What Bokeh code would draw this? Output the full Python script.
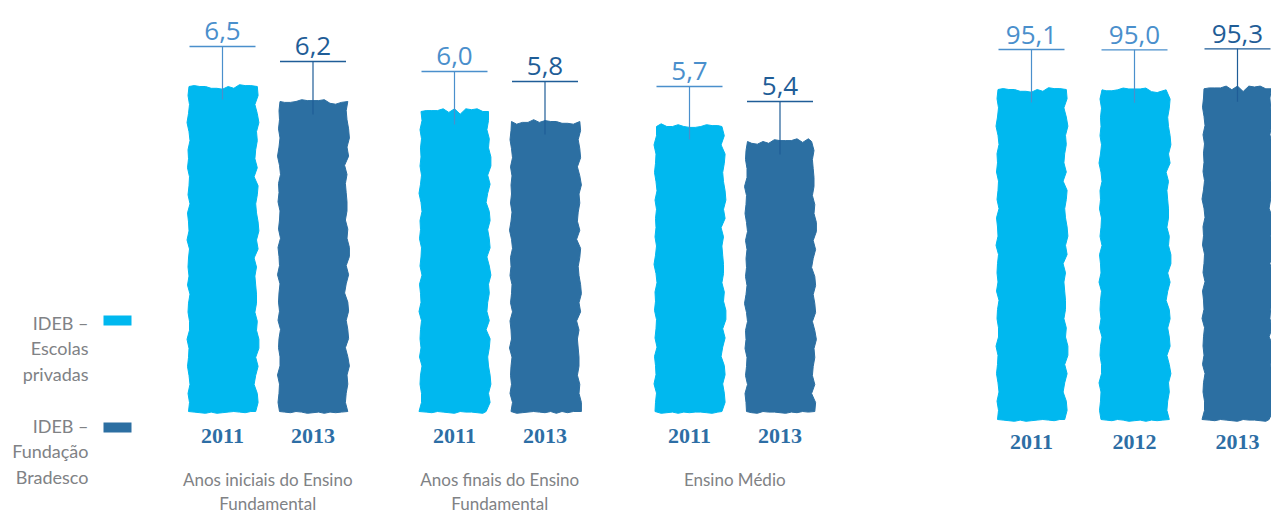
from bokeh.plotting import figure
from bokeh.models import Range1d, ColumnDataSource
from bokeh.core.properties import value
from bokeh.embed import file_html
from bokeh.resources import INLINE

# ---- data -------------------------------------------------------------
ideb_groups = ["Anos iniciais do Ensino\nFundamental",
               "Anos finais do Ensino\nFundamental",
               "Ensino Médio"]
ideb_years = ["2011", "2013"]
ideb_privadas = [6.5, 6.0, 5.7]     # IDEB – Escolas privadas (2011)
ideb_bradesco = [6.2, 5.8, 5.4]     # IDEB – Fundação Bradesco (2013)

pct_years = ["2011", "2012", "2013"]
pct_values = [95.1, 95.0, 95.3]

legend_labels = ["IDEB –\nEscolas\nprivadas", "IDEB –\nFundação\nBradesco"]

# ---- styles -----------------------------------------------------------
LIGHT = "#00b8ef"
DARK = "#2c6fa2"
LABEL_LIGHT = "#4a8fcc"
LABEL_DARK = "#1f5d97"
YEAR_COLOR = "#2d6ea5"
GREY = "#808285"
CAPTION_FONT = value("Lato")

W, H = 1271, 515

# ---- layout (screen-like x axis, independent y scales) ---------------
BAR_W = 68
IDEB_FIRST = [222, 454, 689]   # centre of first bar in each IDEB group
IDEB_STEP = 90.5
PCT_FIRST = 1031
PCT_STEP = 103
IDEB_PX = 50.0                 # pixels per IDEB point
PCT_PX = 3.47                  # pixels per percentage point

# brush-stroke wobble for bar outlines (pixels)
WOBBLE = [0, 2, -1, 3, 1, -2, 0, 1, -3, 2, 2, -1, 0, 3, -2, 1, -1, 0, 2, -3,
          1, 0, -2, 3, -1, 1, 2, -2, 0, -1, 3, 1, -3, 0, 2, -1, 1]

p = figure(width=W, height=H, output_backend="svg", toolbar_location=None,
           x_range=Range1d(0, W), y_range=Range1d(H, 0),
           min_border=0, outline_line_color=None)
p.axis.visible = False
p.grid.visible = False
p.background_fill_color = "white"
p.border_fill_color = "white"

p.extra_y_ranges = {
    "ideb": Range1d(-104 / IDEB_PX, 411 / IDEB_PX),
    "pct": Range1d(-96 / PCT_PX, 419 / PCT_PX),
}


def brush_bar(xc, top, px_per_unit, seed):
    """Outline of a bar from 0 to `top` with a slightly ragged edge."""
    half = BAR_W / 2
    h_px = top * px_per_unit
    k = seed
    n = len(WOBBLE)
    xs, ys = [], []
    n_side = int(h_px // 9)
    for i in range(n_side + 1):                       # left side, upwards
        xs.append(xc - half + WOBBLE[(k + i) % n] * 0.5)
        ys.append(top * i / n_side)
    n_top = 12
    for i in range(1, n_top):                         # top edge
        xs.append(xc - half + BAR_W * i / n_top)
        ys.append(top + WOBBLE[(k + 5 * i + 2) % n] * 0.9 / px_per_unit)
    for i in range(n_side, -1, -1):                   # right side, downwards
        xs.append(xc + half + WOBBLE[(k + 7 * i + 11) % n] * 0.8)
        ys.append(top * i / n_side)
    for i in range(n_top - 1, 0, -1):                 # bottom edge
        xs.append(xc - half + BAR_W * i / n_top)
        ys.append(-abs(WOBBLE[(k + 3 * i + 4) % n]) * 0.6 / px_per_unit)
    return xs, ys


def draw_series(xs, tops, fills, labs, years, y_name, px_per_unit, text_off, year_off):
    lift = 40 / px_per_unit
    dip = 13 / px_per_unit
    src = ColumnDataSource(dict(
        x=xs, top=tops, fill=fills, lab=labs, year=years,
        text=[f"{v:.1f}".replace(".", ",") for v in tops],
        rule=[v + lift for v in tops],
        dip=[v - dip for v in tops],
        x0=[x - 33 for x in xs], x1=[x + 33 for x in xs],
    ))
    outlines = [brush_bar(x, t, px_per_unit, 4 * m) for m, (x, t) in enumerate(zip(xs, tops))]
    p.patches(xs=[o[0] for o in outlines], ys=[o[1] for o in outlines],
              fill_color=fills, line_color=fills, line_width=1,
              y_range_name=y_name)
    p.segment(x0="x0", x1="x1", y0="rule", y1="rule", line_color="lab",
              line_width=1.3, source=src, y_range_name=y_name)
    p.segment(x0="x", x1="x", y0="rule", y1="dip", line_color="lab",
              line_width=1.2, source=src, y_range_name=y_name)
    p.text(x="x", y="top", text="text", text_color="lab", source=src,
           y_range_name=y_name, y_offset=text_off, text_align="center",
           text_baseline="middle", text_font=value("Open Sans"),
           text_font_size="26px")
    p.text(x="x", y=0, text="year", text_color=YEAR_COLOR, source=src,
           y_range_name=y_name, y_offset=year_off, text_align="center",
           text_baseline="middle", text_font=value("Liberation Serif"),
           text_font_style="bold", text_font_size="22px")


def text_block(xs, y, blocks, offset, align, gap, size="18px", **kw):
    """Multi-line labels, one glyph call per line for exact spacing."""
    depth = max(len(b.split("\n")) for b in blocks)
    for ln in range(depth):
        lx, lt = [], []
        for x, b in zip(xs, blocks):
            parts = b.split("\n")
            if ln < len(parts):
                lx.append(x)
                lt.append(parts[ln])
        p.text(x=lx, y=[y] * len(lx), text=lt, y_offset=offset + ln * gap,
               text_align=align, text_baseline="middle", text_color=GREY,
               text_font=CAPTION_FONT, text_font_size=size, **kw)


# ---- IDEB bars --------------------------------------------------------
xs, tops, fills, labs, years = [], [], [], [], []
for i, (a, b) in enumerate(zip(ideb_privadas, ideb_bradesco)):
    for j, (v, fc, lc) in enumerate([(a, LIGHT, LABEL_LIGHT), (b, DARK, LABEL_DARK)]):
        xs.append(IDEB_FIRST[i] + j * IDEB_STEP)
        tops.append(v)
        fills.append(fc)
        labs.append(lc)
        years.append(ideb_years[j])
draw_series(xs, tops, fills, labs, years, "ideb", IDEB_PX, -56, 24)

# group captions under the IDEB pairs
cap_x = [IDEB_FIRST[i] + IDEB_STEP / 2 for i in range(len(ideb_groups))]
text_block(cap_x, 0, ideb_groups, 68, "center", 24, size="17px",
           y_range_name="ideb")

# ---- percent bars -----------------------------------------------------
pxs = [PCT_FIRST + k * PCT_STEP for k in range(len(pct_values))]
draw_series(pxs, pct_values, [LIGHT, LIGHT, DARK],
            [LABEL_LIGHT, LABEL_LIGHT, LABEL_DARK], pct_years,
            "pct", PCT_PX, -55, 22)

# ---- legend -----------------------------------------------------------
text_block([88], 322, legend_labels[:1], 0, "right", 25.5)
text_block([88], 425, legend_labels[1:], 0, "right", 25.5)
p.rect(x=[117, 117], y=[320, 427], width=28, height=10,
       fill_color=[LIGHT, DARK], line_color=None)

with open("out.html", "w") as f:
    f.write(file_html(p, INLINE))
